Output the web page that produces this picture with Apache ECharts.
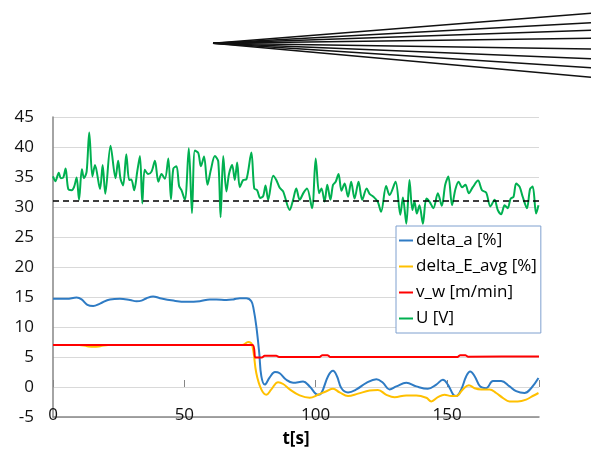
<!DOCTYPE html>
<html>
<head>
<meta charset="utf-8">
<script src="https://cdn.jsdelivr.net/npm/echarts@6/dist/echarts.min.js"></script>
<style>
  html, body { margin: 0; padding: 0; background: #fff; }
  #main { width: 591px; height: 455px; }
</style>
</head>
<body>
<div id="main"></div>
<script>
// t[s] and values
var tA = [0, 5.2, 9, 10.9, 13.1, 15.3, 17.9, 21.7, 25.5, 29.3, 31.8, 33.7, 35.6, 38.1, 40.7, 45.8, 50.8, 55.9, 59.7, 62.2, 66, 68.6, 71.1, 73.6, 75.5, 76.4, 77.4, 78.5, 79.3, 80.6, 82.5, 84.5, 86.3, 88.8, 91.4, 95.2, 97.7, 100.9, 102.2, 104.7, 106.6, 108.1, 109.8, 112.3, 115.5, 119.3, 123.1, 125.6, 128.1, 130.7, 134.5, 138.3, 142.7, 145.9, 148.4, 150.3, 152.4, 153.5, 155.4, 157.3, 158.8, 160.5, 162.6, 164.9, 167.5, 170.6, 173.8, 176.3, 179.5, 182, 184.8];
var deltaA = [14.7, 14.7, 14.9, 14.6, 13.7, 13.5, 13.9, 14.6, 14.7, 14.5, 14.3, 14.4, 14.8, 15.1, 14.8, 14.4, 14.2, 14.3, 14.6, 14.6, 14.5, 14.6, 14.8, 14.8, 14.3, 12.9, 10.1, 5.7, 1.8, 0.4, 1.6, 2.5, 2.3, 1.2, 0.7, 0.9, 0.1, -1.3, -1.0, 1.8, 2.7, 1.8, -0.2, -0.9, -0.4, 0.7, 1.3, 0.7, -0.4, 0.1, 0.7, 0.1, -0.3, 0.4, 1.2, 0.4, -1.3, -1.5, -0.4, 1.8, 2.6, 1.8, 0.1, -0.2, 1.0, 1.0, 0.1, -0.7, -1.0, -0.2, 1.5];

var tE = [0, 10, 13, 15.5, 18, 21, 60, 72, 74.3, 75.8, 77.4, 79.3, 81.2, 83.1, 85.7, 87.6, 90.1, 93.9, 97.7, 100.9, 104.1, 106.6, 109.1, 112.3, 116.1, 120.5, 123.7, 126.9, 130, 134.5, 138.3, 142.1, 144, 146.5, 149, 151.6, 153.5, 156, 158.3, 160.5, 163, 166.2, 168.7, 171.2, 173.8, 176.9, 180.1, 182.6, 184.8];
var deltaE = [7, 7, 6.8, 6.7, 6.8, 7, 7, 7, 7.5, 7, 2.3, -0.4, -1.3, -0.4, 0.8, 0.5, -0.4, -1.4, -1.8, -1.3, -0.7, -0.3, -0.9, -1.5, -1.1, -0.6, -0.5, -1.3, -1.7, -1.4, -1.4, -1.8, -2.4, -1.7, -1.3, -1.5, -1.5, -0.4, 0.3, -0.2, -0.4, -0.4, -1.0, -1.8, -2.4, -2.4, -2.1, -1.5, -1.0];

var tV = [0, 76, 77, 79.5, 80.5, 85, 86, 101.5, 102.5, 104.5, 105.5, 154, 155, 157, 158, 185];
var vW = [7, 7, 4.9, 4.9, 5.2, 5.2, 5.0, 5.0, 5.3, 5.3, 5.0, 5.0, 5.3, 5.3, 5.05, 5.1];

var tU = [0, 0.9, 2.2, 3, 3.9, 4.8, 5.8, 7.1, 8, 9, 9.9, 11, 11.8, 12.8, 13.8, 15, 16, 17.9, 18.9, 19.9, 21.9, 23.8, 24.8, 25.7, 26.7, 27.9, 29, 29.8, 30.9, 32.1, 33.1, 34, 34.9, 36.2, 37.5, 38.8, 40.1, 41.3, 42.6, 43.9, 44.9, 45.8, 47, 48, 48.9, 50.2, 51.7, 52.9, 54, 55.3, 56.3, 57.5, 58.8, 60.1, 61.6, 62.9, 63.8, 64.8, 66, 67, 68.2, 69.2, 70.1, 71.1, 72.4, 73.6, 75.5, 76.6, 77.7, 78.9, 80, 80.9, 81.9, 83.8, 85, 86.3, 87.6, 90.1, 91.4, 92.6, 93.9, 95.4, 96.7, 98.6, 100, 101.3, 102.2, 103.4, 104.4, 105.6, 106.6, 107.6, 108.7, 109.8, 111, 112.3, 113.5, 114.8, 116.3, 117.7, 119.4, 120.5, 122, 123.6, 124.9, 126.8, 128.1, 130.4, 132.2, 133.2, 134.5, 135.7, 136.8, 137.6, 138.5, 139.5, 140.8, 142.1, 143.3, 144.8, 146.5, 148, 149.3, 150.5, 151.9, 153.2, 154.4, 155.7, 157, 158.3, 159.8, 161.8, 163.3, 164.9, 166.5, 168.1, 169.3, 170.6, 171.9, 173.1, 174.2, 175.3, 176.3, 177.6, 178.8, 180.4, 181.6, 182.6, 183.9, 184.8];
var uV = [35.1, 34.3, 35.7, 34.8, 34.9, 36.4, 33.0, 32.8, 33.3, 34.9, 31.2, 36.3, 34.8, 35.9, 42.4, 35.1, 37.0, 33.0, 37.0, 32.2, 40.2, 34.8, 37.7, 34.7, 33.6, 38.8, 34.5, 34.6, 32.8, 36.0, 38.5, 30.6, 36.2, 35.5, 35.9, 37.7, 34.2, 35.5, 34.7, 38.1, 31.3, 36.4, 36.8, 33.5, 32.8, 31.2, 39.8, 29.0, 39.4, 39.0, 36.8, 38.4, 33.7, 36.2, 38.5, 37.6, 28.3, 38.5, 32.6, 35.5, 37.0, 34.5, 37.4, 33.3, 34.5, 34.6, 39.1, 33.1, 32.8, 31.5, 31.8, 33.6, 31.2, 35.2, 34.5, 33.2, 32.6, 29.5, 31.2, 33.1, 31.2, 32.4, 33.1, 29.8, 38.1, 32.3, 33.1, 30.9, 33.7, 31.2, 33.7, 34.2, 35.5, 32.7, 33.9, 31.7, 34.2, 31.4, 34.2, 31.2, 33.1, 32.2, 31.7, 30.9, 29.2, 33.5, 32.0, 34.2, 28.7, 31.6, 27.2, 34.5, 29.5, 30.9, 28.9, 30.3, 27.2, 31.4, 30.9, 29.8, 32.3, 30.2, 33.7, 35.1, 30.3, 33.0, 34.2, 33.3, 33.7, 32.3, 33.3, 34.4, 32.8, 32.4, 30.1, 31.2, 29.5, 28.8, 30.3, 29.8, 31.4, 31.7, 33.9, 33.4, 31.7, 29.8, 33.0, 33.4, 28.9, 30.3];
var uRef = 31;

var yTicks = { min: -5, max: 45, step: 5 };
var xTicks = { min: 0, max: 185, step: 50 };

// fan of lines in the top strip (end heights in % of the strip)
var fanApex = 43.3;
var fanEnds = [13.3, 22.7, 30.3, 38.3, 49, 58.7, 67.7, 77.3];

var names = ['delta_a [%]', 'delta_E_avg [%]', 'v_w [m/min]', 'U [V]'];
var colors = ['#2e7bc4', '#ffc000', '#ff0000', '#00b050'];

function pairs(t, v) {
  return t.map(function (x, i) { return [x, v[i]]; });
}

var font = '"Open Sans", "DejaVu Sans", sans-serif';
var chart = echarts.init(document.getElementById('main'), null, { renderer: 'canvas' });

var option = {
  animation: false,
  textStyle: { fontFamily: font },
  grid: [
    { left: 53, right: 52, top: 117, bottom: 38, containLabel: false },
    { left: 213, top: 0, width: 378, height: 100 }
  ],
  xAxis: [
    {
      type: 'value', gridIndex: 0, min: xTicks.min, max: xTicks.max, interval: xTicks.step,
      name: 't[s]', nameLocation: 'middle', nameGap: 14,
      nameTextStyle: { fontSize: 17, fontWeight: 'bold', color: '#000', fontFamily: font },
      axisLine: { onZero: false, lineStyle: { color: '#868686', width: 1.5 } },
      axisTick: { show: false },
      axisLabel: { margin: -10, fontSize: 17, color: '#111', fontFamily: font, showMaxLabel: false },
      splitLine: { show: false }
    },
    {
      type: 'value', gridIndex: 0, min: xTicks.min, max: xTicks.max, interval: xTicks.step,
      axisLine: { show: false, onZero: true },
      axisTick: { show: true, length: 7, lineStyle: { color: '#868686' } },
      axisLabel: { show: false },
      splitLine: { show: false }
    },
    { type: 'value', gridIndex: 1, min: 0, max: 1, show: false }
  ],
  yAxis: [
    {
      type: 'value', gridIndex: 0, min: yTicks.min, max: yTicks.max, interval: yTicks.step,
      axisLine: { show: true, lineStyle: { color: '#868686', width: 1.5 } },
      axisTick: { show: false },
      axisLabel: { margin: 19, fontSize: 17, color: '#111', fontFamily: font },
      splitLine: { lineStyle: { color: '#d9d9d9', width: 1.2 } }
    },
    { type: 'value', gridIndex: 1, min: 0, max: 100, inverse: true, show: false }
  ],
  legend: {
    data: names,
    orient: 'vertical',
    left: 396, top: 226,
    padding: [6, 4, 6, 3],
    backgroundColor: '#fff',
    borderColor: '#7fa0cf',
    borderWidth: 1,
    icon: 'rect',
    itemWidth: 14,
    itemHeight: 2,
    itemGap: 9,
    textStyle: { fontSize: 17, color: '#000', fontFamily: font, padding: [0, 0, 0, -2] }
  },
  series: [
    {
      name: names[0], type: 'line', data: pairs(tA, deltaA), symbol: 'none', smooth: 0.4,
      lineStyle: { color: colors[0], width: 2 }, itemStyle: { color: colors[0] }
    },
    {
      name: names[1], type: 'line', data: pairs(tE, deltaE), symbol: 'none', smooth: 0.4,
      lineStyle: { color: colors[1], width: 2 }, itemStyle: { color: colors[1] }
    },
    {
      name: names[2], type: 'line', data: pairs(tV, vW), symbol: 'none', smooth: 0.2,
      lineStyle: { color: colors[2], width: 2 }, itemStyle: { color: colors[2] }
    },
    {
      name: names[3], type: 'line', data: pairs(tU, uV), symbol: 'none', smooth: 0.3,
      lineStyle: { color: colors[3], width: 2 }, itemStyle: { color: colors[3] },
      markLine: {
        silent: true, symbol: 'none', label: { show: false },
        lineStyle: { color: '#000', type: [6, 4], width: 1.5 },
        data: [{ yAxis: uRef }]
      }
    },
    {
      type: 'lines', coordinateSystem: 'cartesian2d', xAxisIndex: 2, yAxisIndex: 1,
      silent: true,
      lineStyle: { color: '#111', width: 1.6, opacity: 1 },
      data: fanEnds.map(function (y) { return { coords: [[0, fanApex], [1, y]] }; })
    }
  ]
};

chart.setOption(option);
</script>
</body>
</html>
